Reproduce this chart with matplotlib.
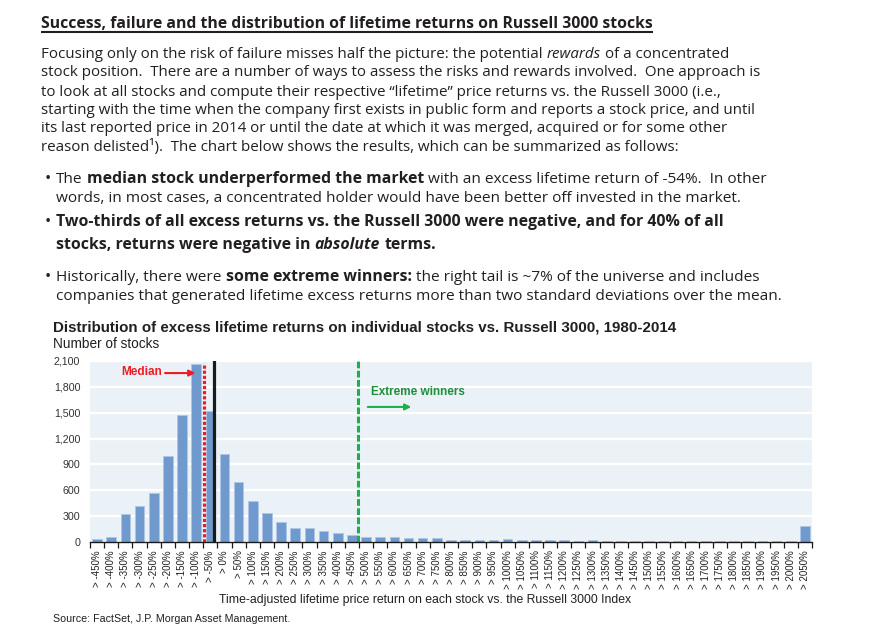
import matplotlib
matplotlib.use("Agg")
import matplotlib.pyplot as plt
import numpy as np

# ---------------- data ----------------
thresholds = list(range(-450, 2051, 50))
categories = [f"> {t}%" for t in thresholds]
counts = [40, 60, 320, 420, 565, 1000, 1475, 2065, 1525, 1020,
          695, 470, 335, 230, 165, 158, 127, 100, 77, 62,
          62, 62, 43, 43, 43, 23, 23, 23, 23, 31,
          23, 23, 23, 23, 12, 23, 13, 13, 13, 13,
          13, 13, 13, 13, 13, 13, 13, 13, 13, 13,
          185]
y_ticks = [0, 300, 600, 900, 1200, 1500, 1800, 2100]
median_pos = 7.55      # category units (median -54%)
market_pos = 8.23      # category units
extreme_pos = 18.45    # category units

TXT = "#231F20"
BAR = "#7099CD"
RED = "#ED1C24"
GREEN = "#1DAF4B"
GREEN_TXT = "#1E8E3E"

W, H = 871, 634
fig = plt.figure(figsize=(W / 100, H / 100), dpi=100)
bg = fig.add_axes([0, 0, 1, 1])
bg.set_xlim(0, W)
bg.set_ylim(H, 0)
bg.axis("off")

BODY = "Open Sans"
PARA_SIZE = 10.9
BULLET_SIZE = 11.1


def rich(x, y, parts, size, family=BODY, color=TXT):
    prev = None
    for txt, weight, style in parts:
        sz = size * (1.03 if weight == "bold" else 1.0)
        kw = dict(fontsize=sz, family=family, fontweight=weight,
                  fontstyle=style, color=color)
        if prev is None:
            prev = bg.text(x, y, txt, ha="left", va="baseline", **kw)
        else:
            off = 0.0
            if txt.startswith(" "):
                txt = txt[1:]
                off = 0.27 * size
            prev = bg.annotate(txt, xy=(1, 0), xycoords=prev,
                               xytext=(off, 0), textcoords="offset points",
                               ha="left", va="bottom", **kw)
    return prev


N, B, I = "normal", "bold", "italic"

# ---------------- header text ----------------
title = bg.text(41, 28, "Success, failure and the distribution of lifetime returns on Russell 3000 stocks",
                fontsize=11.3, family=BODY, fontweight="bold", color=TXT, ha="left", va="baseline")

para = [
    [("Focusing only on the risk of failure misses half the picture: the potential", N, N),
     (" rewards", N, I), (" of a concentrated", N, N)],
    [("stock position.  There are a number of ways to assess the risks and rewards involved.  One approach is", N, N)],
    [("to look at all stocks and compute their respective \u201clifetime\u201d price returns vs. the Russell 3000 (i.e.,", N, N)],
    [("starting with the time when the company first exists in public form and reports a stock price, and until", N, N)],
    [("its last reported price in 2014 or until the date at which it was merged, acquired or for some other", N, N)],
    [("reason delisted\u00b9).  The chart below shows the results, which can be summarized as follows:", N, N)],
]
para_base = [58, 76.5, 95.5, 114, 132.5, 150.5]
for parts, yb in zip(para, para_base):
    rich(41, yb, parts, PARA_SIZE)

bullets = [
    (183, [("The", N, N), (" median stock underperformed the market", B, N),
           (" with an excess lifetime return of -54%.  In other", N, N)]),
    (202, [("words, in most cases, a concentrated holder would have been better off invested in the market.", N, N)]),
    (226, [("Two-thirds of all excess returns vs. the Russell 3000 were negative, and for 40% of all", B, N)]),
    (249, [("stocks, returns were negative in", B, N), (" absolute", B, I), (" terms.", B, N)]),
    (281, [("Historically, there were", N, N), (" some extreme winners:", B, N),
           (" the right tail is ~7% of the universe and includes", N, N)]),
    (300, [("companies that generated lifetime excess returns more than two standard deviations over the mean.", N, N)]),
]
for yb, parts in bullets:
    rich(56, yb, parts, BULLET_SIZE)
for yb in (183, 226, 281):
    bg.text(48, yb, "\u2022", fontsize=12, family=BODY, color=TXT, ha="center", va="baseline")

# ---------------- chart ----------------
CH = "Liberation Sans"
bg.text(53, 327, "Distribution of excess lifetime returns on individual stocks vs. Russell 3000, 1980-2014",
        fontsize=10.9, family=CH, fontweight="bold", color=TXT, ha="left", va="center")
bg.text(53, 344, "Number of stocks", fontsize=9.8, family=CH, color=TXT, ha="left", va="center")

ax = fig.add_axes([90 / W, (H - 542) / H, 722 / W, 181 / H])
ax.set_facecolor("#EBF2F7")
x = np.arange(len(categories))
ax.bar(x, counts, width=0.68, color=BAR, edgecolor="#AFC6E4", linewidth=0.6, zorder=2)
ax.set_xlim(-0.5, len(categories) - 0.5)
ax.set_ylim(0, y_ticks[-1])
ax.set_yticks(y_ticks)
ax.set_yticklabels([f"{v:,}" for v in y_ticks], fontsize=7.7, family=CH, color="#333333")
ax.yaxis.grid(True, color="white", linewidth=1.6)
ax.set_axisbelow(True)
for s in ("top", "right", "left"):
    ax.spines[s].set_visible(False)
ax.spines["bottom"].set_color("#1a1a1a")
ax.spines["bottom"].set_linewidth(1.0)
ax.spines["bottom"].set_zorder(5)
ax.tick_params(axis="y", length=0, pad=7)

ax.set_xticks(np.arange(-0.5, len(categories), 1.0))
ax.set_xticklabels([])
ax.tick_params(axis="x", which="major", direction="out", length=4, width=0.9, color="#1a1a1a")
ax.set_xticks(x, minor=True)
ax.set_xticklabels(categories, minor=True, rotation=90, fontsize=7.0, family=CH, color=TXT)
ax.tick_params(axis="x", which="minor", length=0, pad=6)

# reference lines
ax.plot([median_pos, median_pos], [0, 2078], color=RED, lw=2.3,
        linestyle=(0, (1, 0.6)), zorder=4, solid_capstyle="butt")
ax.axvline(market_pos, color="#1a1a1a", lw=2.3, zorder=4)
ax.axvline(extreme_pos, color=GREEN, lw=2.2, linestyle=(0, (2.2, 0.8)), zorder=4)

# annotations
ax.text(1.7, 1970, "Median", fontsize=8.5, family=CH, fontweight="bold", color=RED,
        ha="left", va="center")
ax.annotate("", xy=(6.95, 1960), xytext=(4.8, 1960),
            arrowprops=dict(arrowstyle="-|>", color=RED, lw=1.5, mutation_scale=9,
                            shrinkA=0, shrinkB=0))
ax.text(19.32, 1737, "Extreme winners", fontsize=8.5, family=CH, fontweight="bold",
        color=GREEN_TXT, ha="left", va="center")
ax.annotate("", xy=(22.2, 1567), xytext=(19.12, 1567),
            arrowprops=dict(arrowstyle="-|>", color=GREEN, lw=1.5, mutation_scale=9,
                            shrinkA=0, shrinkB=0))

bg.text(425, 600, "Time-adjusted lifetime price return on each stock vs. the Russell 3000 Index",
        fontsize=8.8, family=CH, color=TXT, ha="center", va="center")
bg.text(53, 619, "Source: FactSet, J.P. Morgan Asset Management.", fontsize=7.7, family=CH,
        color=TXT, ha="left", va="center")

# underline for title
fig.canvas.draw()
bb = title.get_window_extent()
bg.plot([bb.x0, bb.x1], [32, 32], color=TXT, lw=1.5, solid_capstyle="butt")

fig.savefig("out.png", dpi=100)
